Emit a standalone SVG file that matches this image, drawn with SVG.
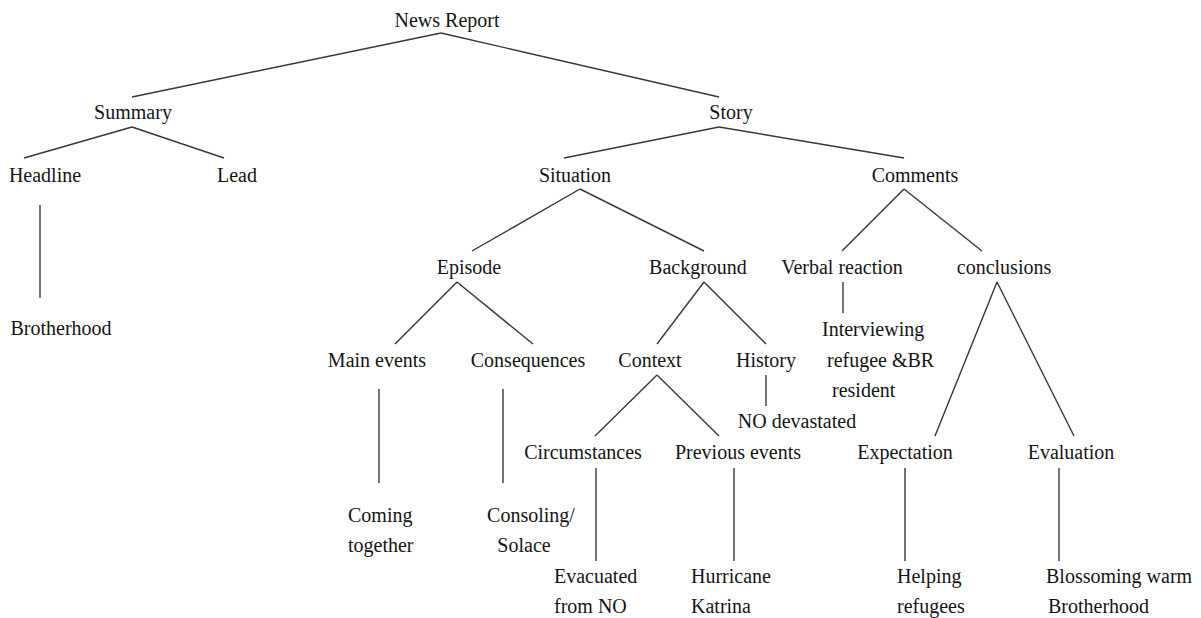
<svg xmlns="http://www.w3.org/2000/svg" width="1201" height="618" viewBox="0 0 1201 618">
<style>
text{font-family:'Liberation Serif','Times New Roman',Times,serif;font-size:20px;fill:#151515}
.m{text-anchor:middle}
.c line{stroke:#383838;stroke-width:1.4;fill:none}
</style>
<rect width="1201" height="618" fill="#ffffff"/>
<g id="connectors" class="c">
<line x1="441" y1="33" x2="132" y2="97"/>
<line x1="441" y1="33" x2="719" y2="97"/>
<line x1="132" y1="127" x2="24" y2="158"/>
<line x1="132" y1="127" x2="224" y2="158"/>
<line x1="40" y1="205" x2="40" y2="298"/>
<line x1="719" y1="127" x2="564" y2="158"/>
<line x1="719" y1="127" x2="904" y2="158"/>
<line x1="580" y1="189" x2="472" y2="251"/>
<line x1="580" y1="189" x2="704" y2="251"/>
<line x1="904" y1="189" x2="842" y2="251"/>
<line x1="904" y1="189" x2="982" y2="251"/>
<line x1="457" y1="282" x2="395" y2="344"/>
<line x1="457" y1="282" x2="533" y2="344"/>
<line x1="704" y1="282" x2="657" y2="344"/>
<line x1="704" y1="282" x2="766" y2="344"/>
<line x1="843" y1="282" x2="843" y2="313"/>
<line x1="997" y1="282" x2="935" y2="436"/>
<line x1="997" y1="282" x2="1074" y2="436"/>
<line x1="379" y1="389" x2="379" y2="483"/>
<line x1="503" y1="389" x2="503" y2="483"/>
<line x1="657" y1="375" x2="595" y2="436"/>
<line x1="657" y1="375" x2="719" y2="436"/>
<line x1="766" y1="375" x2="766" y2="406"/>
<line x1="596" y1="468" x2="596" y2="561"/>
<line x1="734" y1="468" x2="734" y2="561"/>
<line x1="905" y1="468" x2="905" y2="561"/>
<line x1="1059" y1="468" x2="1059" y2="561"/>
</g>
<g font-family="'Liberation Serif', 'Times New Roman', serif">
<g id="news-report"><text class="m" x="447" y="27">News Report</text></g>
<g id="summary"><text class="m" x="133" y="119">Summary</text></g>
<g id="story"><text class="m" x="731" y="119">Story</text></g>
<g id="headline"><text class="m" x="45" y="182">Headline</text></g>
<g id="lead"><text class="m" x="237" y="182">Lead</text></g>
<g id="situation"><text class="m" x="575" y="182">Situation</text></g>
<g id="comments"><text class="m" x="915" y="182">Comments</text></g>
<g id="brotherhood"><text class="m" x="61" y="335">Brotherhood</text></g>
<g id="episode"><text class="m" x="469" y="274">Episode</text></g>
<g id="background"><text class="m" x="698" y="274">Background</text></g>
<g id="verbal-reaction"><text class="m" x="842" y="274">Verbal reaction</text></g>
<g id="conclusions"><text class="m" x="1004" y="274">conclusions</text></g>
<g id="main-events"><text class="m" x="377" y="367">Main events</text></g>
<g id="consequences"><text class="m" x="528" y="367">Consequences</text></g>
<g id="context"><text class="m" x="650" y="367">Context</text></g>
<g id="history"><text class="m" x="766" y="367">History</text></g>
<g id="interviewing"><text x="822" y="336">Interviewing</text><text x="827" y="367">refugee &amp;BR</text><text x="832" y="397">resident</text></g>
<g id="no-devastated"><text class="m" x="797" y="428">NO devastated</text></g>
<g id="circumstances"><text class="m" x="583" y="459">Circumstances</text></g>
<g id="previous-events"><text class="m" x="738" y="459">Previous events</text></g>
<g id="expectation"><text class="m" x="905" y="459">Expectation</text></g>
<g id="evaluation"><text class="m" x="1071" y="459">Evaluation</text></g>
<g id="coming-together"><text x="348" y="522">Coming</text><text x="348" y="552">together</text></g>
<g id="consoling"><text class="m" x="531" y="522">Consoling/</text><text class="m" x="524" y="552">Solace</text></g>
<g id="evacuated"><text x="554" y="583">Evacuated</text><text x="554" y="613">from NO</text></g>
<g id="hurricane"><text x="691" y="583">Hurricane</text><text x="691" y="613">Katrina</text></g>
<g id="helping"><text x="897" y="583">Helping</text><text x="897" y="613">refugees</text></g>
<g id="blossoming"><text x="1046" y="583">Blossoming warm</text><text x="1048" y="613">Brotherhood</text></g>
</g>
</svg>
